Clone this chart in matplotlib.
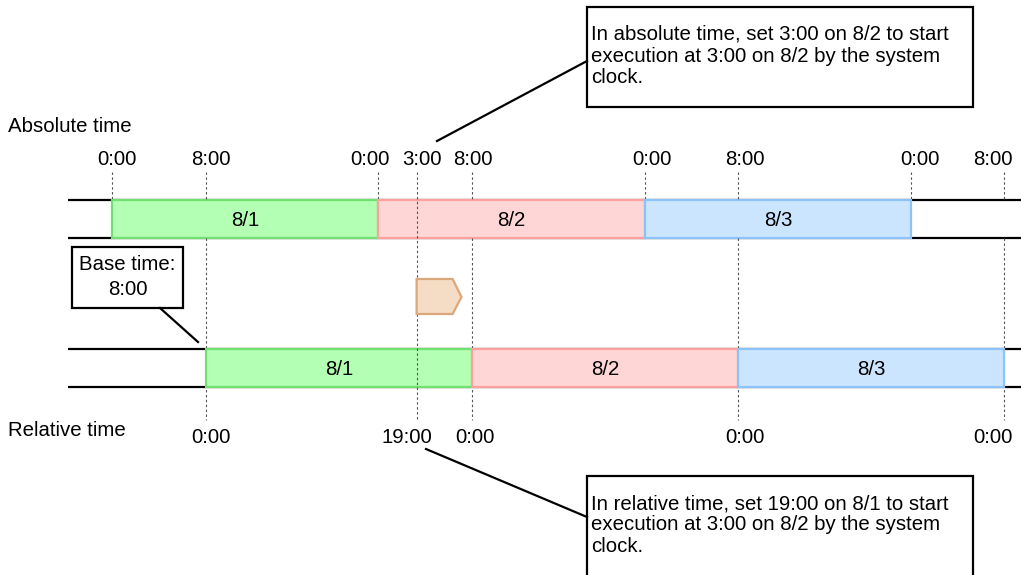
import matplotlib
matplotlib.use('Agg')
import matplotlib.pyplot as plt
from matplotlib.patches import Rectangle, Polygon

plt.rcParams['font.family'] = ['Liberation Sans', 'DejaVu Sans']

# ---------------- data ----------------
days = ['8/1', '8/2', '8/3']
day_fill = ['#b3ffb3', '#ffd6d6', '#cce5ff']
day_edge = ['#70e070', '#ffa0a0', '#8cc3fa']
day_len = 24                         # hours per day
abs_day_start = [0, 24, 48]          # hours from 0:00 on 8/1 (absolute time)
base_time = 8                        # base time 8:00
rel_day_start = [s + base_time for s in abs_day_start]   # relative-time days
abs_midnights = [0, 24, 48, 72]
abs_midnight_labels = ['0:00', '0:00', '0:00', '0:00']
base_marks = [8, 32, 56, 80]
abs_base_labels = ['8:00', '8:00', '8:00', '8:00']
rel_midnight_labels = ['0:00', '0:00', '0:00', '0:00']
exec_time = 27                       # 3:00 on 8/2 == 19:00 relative on 8/1
exec_abs_label = '3:00'
exec_rel_label = '19:00'

top_note = ['In absolute time, set 3:00 on 8/2 to start',
            'execution at 3:00 on 8/2 by the system',
            'clock.']
bottom_note = ['In relative time, set 19:00 on 8/1 to start',
               'execution at 3:00 on 8/2 by the system',
               'clock.']
base_note = ['Base time:', '8:00']

# ---------------- layout ----------------
W, H = 1021, 575
FS = 14.7
fig = plt.figure(figsize=(W / 100, H / 100), dpi=100)

P = fig.add_axes([0, 0, 1, 1])
P.set_xlim(0, W); P.set_ylim(H, 0); P.axis('off')

A = fig.add_axes([0, 0, 1, 1])          # absolute-time scale (hours)
A.set_xlim(-10.093, 81.91); A.set_ylim(H, 0); A.axis('off')
A.patch.set_alpha(0)

R = fig.add_axes([0, 0, 1, 1])          # relative-time scale (hours)
R.set_xlim(-10.586, 81.53); R.set_ylim(H, 0); R.axis('off')
R.patch.set_alpha(0)

top_y0, top_y1 = 200, 238
rel_y0, rel_y1 = 349, 387
dash = dict(color='#555555', lw=0.8, linestyle=(0, (2.2, 2.2)))

# black row lines
for y in (top_y0, top_y1, rel_y0, rel_y1):
    P.plot([68, W], [y, y], color='black', lw=1.6, solid_capstyle='butt', zorder=1)

# bars
for ax, starts, (y0, y1) in ((A, abs_day_start, (top_y0, top_y1)),
                             (R, rel_day_start, (rel_y0, rel_y1))):
    for s, lab, fc, ec in zip(starts, days, day_fill, day_edge):
        ax.add_patch(Rectangle((s, y0), day_len, y1 - y0, facecolor=fc,
                               edgecolor=ec, lw=1.6, zorder=3))
        ax.text(s + day_len / 2, (y0 + y1) / 2 + 7, lab, ha='center',
                va='baseline', fontsize=FS, zorder=5)

# dashed guide lines
for h in abs_midnights:
    A.plot([h, h], [172, top_y0], zorder=2, **dash)
for h in base_marks:
    R.plot([h, h], [172, top_y0], zorder=2, **dash)
    R.plot([h, h], [top_y1, 420], zorder=2, **dash)
R.plot([exec_time, exec_time], [172, 420], zorder=6, **dash)

# execution marker (chevron)
w_body, w_tip = 3.25, 4.05
R.add_patch(Polygon([(exec_time, 279), (exec_time + w_body, 279),
                     (exec_time + w_tip, 297), (exec_time + w_body, 314),
                     (exec_time, 314)], closed=True, facecolor='#f5dcc5',
                    edgecolor='#dca77b', lw=1.6, zorder=7))

# tick labels
def lab(ax, h, y, s, dx):
    ax.annotate(s, xy=(h, y), xytext=(dx, 0), textcoords='offset pixels',
                ha='center', va='baseline', fontsize=FS, zorder=8)

for h, s, dx in zip(abs_midnights, abs_midnight_labels, [5, -8, 7, 9]):
    lab(A, h, 165, s, dx)
for h, s, dx in zip(base_marks, abs_base_labels, [5, 1, 7, -11]):
    lab(R, h, 165, s, dx)
lab(R, exec_time, 165, exec_abs_label, 5)
for h, s, dx in zip(base_marks, rel_midnight_labels, [5, 3, 7, -11]):
    lab(R, h, 443, s, dx)
lab(R, exec_time, 443, exec_rel_label, -10)

P.text(8, 132, 'Absolute time', fontsize=FS, ha='left', va='baseline')
P.text(8, 436, 'Relative time', fontsize=FS, ha='left', va='baseline')

# callouts
box = dict(facecolor='white', edgecolor='black', lw=1.6, zorder=9)
P.add_patch(Rectangle((587, 7), 386, 100, **box))
for i, s in enumerate(top_note):
    P.text(591, 40 + 21.5 * i, s, fontsize=FS, ha='left', va='baseline', zorder=10)
P.plot([437, 587], [141, 61], color='black', lw=1.6, zorder=9)

P.add_patch(Rectangle((587, 476), 386, 110, **box))
for i, s in enumerate(bottom_note):
    P.text(591, 509 + 21.5 * i, s, fontsize=FS, ha='left', va='baseline', zorder=10)
P.plot([426, 587], [449, 517], color='black', lw=1.6, zorder=9)

P.add_patch(Rectangle((72, 247), 111, 61, **box))
for i, s in enumerate(base_note):
    P.text(127.5, 270 + 25 * i, s, fontsize=FS, ha='center', va='baseline', zorder=10)
P.plot([160, 198], [308, 342], color='black', lw=1.6, zorder=9)

fig.savefig('out.png', dpi=100)
